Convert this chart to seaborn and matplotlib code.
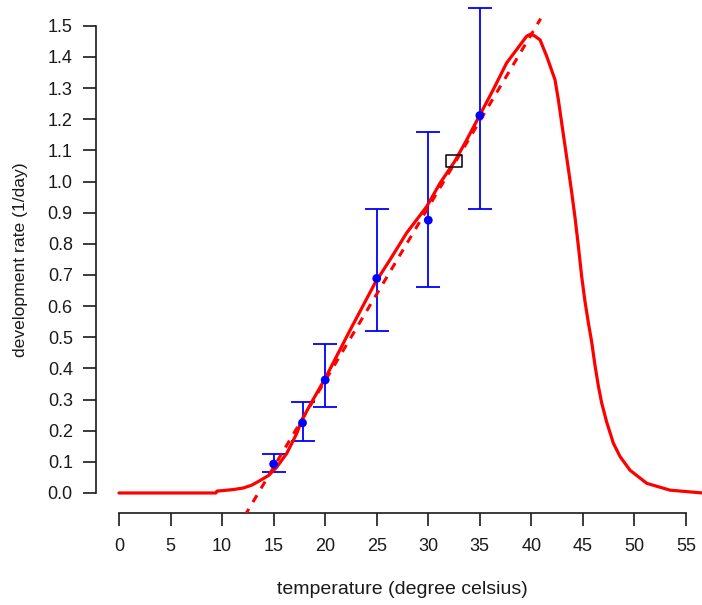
import numpy as np
import pandas as pd
import matplotlib
matplotlib.use("Agg")
import matplotlib.pyplot as plt
import seaborn as sns
from matplotlib.path import Path

# ---- data ----
curve_temp = [0, 9.4, 9.5, 11.1, 12.06, 12.87, 13.68, 14.5, 15.3, 16.27, 17.24, 17.72,
              18.69, 20.0, 22.4, 24.83, 26.29, 27.9, 29.85, 31.14, 32.53,
              33.73, 35.02, 36.3, 37.6, 39.55, 39.9, 40.3, 40.84, 41.49, 42.29, 42.62,
              42.94, 43.26, 43.59, 43.9, 44.23, 44.56, 44.88, 45.2, 45.53, 45.85, 46.17,
              46.5, 46.82, 47.3, 47.95, 48.6, 49.57, 51.19, 53.45, 56.6]
curve_rate = [0, 0, 0.006, 0.011, 0.016, 0.025, 0.04, 0.056, 0.083, 0.127, 0.191, 0.233,
              0.292, 0.368, 0.522, 0.674, 0.749, 0.835, 0.92, 0.995, 1.063,
              1.134, 1.215, 1.295, 1.381, 1.467, 1.473, 1.468, 1.455, 1.402, 1.327, 1.262,
              1.188, 1.115, 1.04, 0.968, 0.885, 0.792, 0.695, 0.615, 0.546, 0.485, 0.41,
              0.343, 0.289, 0.228, 0.16, 0.117, 0.073, 0.031, 0.009, 0.0]

linear_temp = [12.2, 40.9]
linear_rate = [-0.073, 1.523]

obs_temp = [15, 17.8, 20, 25, 30, 35]
obs_rate = [0.093, 0.225, 0.363, 0.689, 0.876, 1.212]
obs_low = [0.068, 0.167, 0.276, 0.521, 0.661, 0.912]
obs_high = [0.125, 0.293, 0.479, 0.912, 1.160, 1.558]

box_temp = [32.45]
box_rate = [1.065]

x_ticks = [0, 5, 10, 15, 20, 25, 30, 35, 40, 45, 50, 55]
y_ticks = [0.0, 0.1, 0.2, 0.3, 0.4, 0.5, 0.6, 0.7, 0.8, 0.9, 1.0, 1.1, 1.2, 1.3, 1.4, 1.5]

# ---- style ----
sns.set_style("ticks")
plt.rcParams["font.family"] = ["Liberation Sans", "DejaVu Sans"]

fig = plt.figure(figsize=(7.02, 6.05), dpi=100)
W, H = 702, 605
ax_left, ax_bottom_px, ax_right, ax_top_px = 96, 513, 702, 0
ax = fig.add_axes([ax_left / W, (H - ax_bottom_px) / H,
                   (ax_right - ax_left) / W, (ax_bottom_px - ax_top_px) / H])

curve_df = pd.DataFrame({"temp": curve_temp, "rate": curve_rate})
lin_df = pd.DataFrame({"temp": linear_temp, "rate": linear_rate})
obs_df = pd.DataFrame({"temp": obs_temp, "rate": obs_rate})

# error bars
yerr = np.array([np.array(obs_rate) - np.array(obs_low), np.array(obs_high) - np.array(obs_rate)])
ax.errorbar(obs_temp, obs_rate, yerr=yerr, fmt="none", ecolor="#0000FF",
            elinewidth=1.3, capsize=8.8, capthick=1.3, zorder=2)

sns.lineplot(data=curve_df, x="temp", y="rate", ax=ax, color="#FF0000", lw=2.3,
             sort=False, estimator=None, zorder=3)
sns.lineplot(data=lin_df, x="temp", y="rate", ax=ax, color="#FF0000", lw=2.2,
             sort=False, estimator=None, zorder=3)
ax.lines[-1].set_linestyle((0, (2.6, 2.6)))

sns.scatterplot(data=obs_df, x="temp", y="rate", ax=ax, color="#0000FF", s=40,
                edgecolor="none", zorder=4)

rect = Path([(-1, -0.8), (1, -0.8), (1, 0.8), (-1, 0.8), (-1, -0.8)],
            [Path.MOVETO, Path.LINETO, Path.LINETO, Path.LINETO, Path.CLOSEPOLY])
ax.plot(box_temp, box_rate, linestyle="none", marker=rect, markersize=11.5,
        markerfacecolor="none", markeredgecolor="black", markeredgewidth=1.1, zorder=5)

# ---- axes (R-like detached axes) ----
ax.set_xlim(-2.231, 56.55)
ax.set_ylim(-0.0643, 1.583)
ax.set_xticks(x_ticks)
ax.set_yticks(y_ticks)
ax.set_xticklabels([str(t) for t in x_ticks])
ax.set_yticklabels([f"{t:.1f}" for t in y_ticks])
for s in ["top", "right"]:
    ax.spines[s].set_visible(False)
ax.spines["left"].set_bounds(0, 1.5)
ax.spines["bottom"].set_bounds(0, 55)
for s in ["left", "bottom"]:
    ax.spines[s].set_linewidth(1.2)
    ax.spines[s].set_color("#1a1a1a")
ax.tick_params(axis="both", length=9.2, width=1.2, color="#1a1a1a",
               labelsize=13, labelcolor="#1a1a1a")
ax.tick_params(axis="y", pad=7.5)
ax.tick_params(axis="x", pad=9)
ax.grid(False)

ax.set_xlabel("temperature (degree celsius)", fontsize=14, color="#1a1a1a")
ax.set_ylabel("development rate (1/day)", fontsize=12.6, color="#1a1a1a")
ax.xaxis.set_label_coords((402.5 - ax_left) / (ax_right - ax_left),
                          (ax_bottom_px - 589) / (ax_bottom_px - ax_top_px))
ax.xaxis.label.set_va("center")
ax.yaxis.set_label_coords((20.5 - ax_left) / (ax_right - ax_left),
                          (ax_bottom_px - 259.5) / (ax_bottom_px - ax_top_px))
ax.yaxis.label.set_va("center")

fig.savefig("out.png", dpi=100)
